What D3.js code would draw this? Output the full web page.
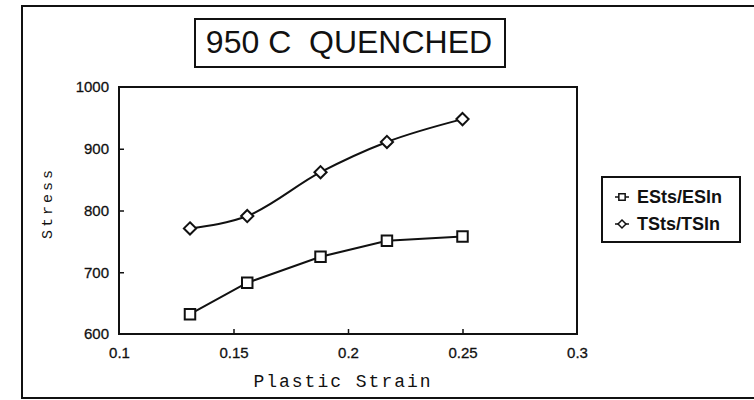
<!DOCTYPE html>
<html>
<head>
<meta charset="utf-8">
<script src="https://cdn.jsdelivr.net/npm/d3@7/dist/d3.min.js"></script>
<style>
  html, body { margin: 0; padding: 0; background: #fff; }
  svg { display: block; }
</style>
</head>
<body>
<svg id="chart" width="754" height="400"></svg>
<script>
// ---- data ----
const strain = [0.131, 0.156, 0.188, 0.217, 0.25];
const esValues = [632, 683, 725, 751, 758];
const tsValues = [771, 791, 862, 911, 948];
const seriesNames = ["ESts/ESln", "TSts/TSln"];
const yTicks = [600, 700, 800, 900, 1000];
const xTicks = [0.1, 0.15, 0.2, 0.25, 0.3];
const titleText = "950 C  QUENCHED";
const xLabel = "Plastic Strain";
const yLabel = "Stress";

const svg = d3.select("#chart");
const ink = "#111";

// outer frame
svg.append("rect").attr("x", 22).attr("y", 6).attr("width", 760).attr("height", 392)
  .attr("fill", "none").attr("stroke", ink).attr("stroke-width", 2);

// title box
svg.append("rect").attr("x", 195).attr("y", 19).attr("width", 310).attr("height", 48)
  .attr("fill", "none").attr("stroke", ink).attr("stroke-width", 2);
svg.append("text").attr("x", 349).attr("y", 53).attr("text-anchor", "middle")
  .attr("font-family", "'Liberation Sans', Arial, sans-serif").attr("font-size", 32)
  .attr("fill", ink).style("white-space", "pre").text(titleText);

// plot area
const L = 119, R = 577, T = 87, B = 334;
const x = d3.scaleLinear().domain([0.1, 0.3]).range([L, R]);
const y = d3.scaleLinear().domain([600, 1000]).range([B, T]);

// frame
svg.append("rect").attr("x", L).attr("y", T).attr("width", R - L).attr("height", B - T)
  .attr("fill", "none").attr("stroke", ink).attr("stroke-width", 2);

const tickFont = "'Liberation Sans', Arial, sans-serif";
const yAxis = svg.append("g").attr("transform", `translate(${L},0)`)
  .call(d3.axisLeft(y).tickValues(yTicks).tickFormat(d3.format("d")).tickSize(-5).tickPadding(10));
const xAxis = svg.append("g").attr("transform", `translate(0,${B})`)
  .call(d3.axisBottom(x).tickValues(xTicks).tickFormat(d => String(d)).tickSize(-5).tickPadding(13));
[yAxis, xAxis].forEach(g => {
  g.select(".domain").remove();
  g.selectAll("line").attr("stroke", ink).attr("stroke-width", 1.5);
  g.selectAll("text").attr("font-family", tickFont).attr("font-size", 15)
    .attr("fill", ink).attr("stroke", ink).attr("stroke-width", 0.3);
});
// hide inner ticks at the frame ends
yAxis.selectAll(".tick").filter(d => d === 600 || d === 1000).select("line").remove();
xAxis.selectAll(".tick").filter(d => d === 0.1 || d === 0.3).select("line").remove();

// axis titles
svg.append("text").attr("transform", "translate(52,203) rotate(-90)").attr("text-anchor", "middle")
  .attr("font-family", "'Liberation Mono', 'DejaVu Sans Mono', monospace").attr("font-size", 15)
  .attr("letter-spacing", 3).attr("fill", ink).text(yLabel);
svg.append("text").attr("x", 343).attr("y", 387).attr("text-anchor", "middle")
  .attr("font-family", "'Liberation Mono', 'DejaVu Sans Mono', monospace").attr("font-size", 18)
  .attr("letter-spacing", 2).attr("fill", ink).text(xLabel);

// lines
const esLine = d3.line().x(d => x(d[0])).y(d => y(d[1])).curve(d3.curveLinear);
const tsLine = d3.line().x(d => x(d[0])).y(d => y(d[1])).curve(d3.curveMonotoneX);
const esData = strain.map((s, i) => [s, esValues[i]]);
const tsData = strain.map((s, i) => [s, tsValues[i]]);
svg.append("path").datum(esData).attr("d", esLine).attr("fill", "none")
  .attr("stroke", ink).attr("stroke-width", 2);
svg.append("path").datum(tsData).attr("d", tsLine).attr("fill", "none")
  .attr("stroke", ink).attr("stroke-width", 2);

// markers
const sq = d3.symbol().type(d3.symbolSquare).size(110);
const dm = d3.symbol().type(d3.symbolDiamond2).size(95);
svg.append("g").selectAll("path").data(esData).join("path")
  .attr("transform", d => `translate(${x(d[0])},${y(d[1])})`).attr("d", sq)
  .attr("fill", "#fff").attr("stroke", ink).attr("stroke-width", 2);
svg.append("g").selectAll("path").data(tsData).join("path")
  .attr("transform", d => `translate(${x(d[0])},${y(d[1])})`).attr("d", dm)
  .attr("fill", "#fff").attr("stroke", ink).attr("stroke-width", 2);

// legend
const lg = svg.append("g");
lg.append("rect").attr("x", 602).attr("y", 177).attr("width", 138).attr("height", 65)
  .attr("fill", "#fff").attr("stroke", ink).attr("stroke-width", 2);
const legendSymbols = [d3.symbol().type(d3.symbolSquare).size(40), d3.symbol().type(d3.symbolDiamond2).size(40)];
seriesNames.forEach((name, i) => {
  const yy = 197 + i * 27;
  lg.append("line").attr("x1", 615).attr("x2", 629).attr("y1", yy).attr("y2", yy)
    .attr("stroke", ink).attr("stroke-width", 1.5);
  lg.append("path").attr("transform", `translate(622,${yy})`).attr("d", legendSymbols[i])
    .attr("fill", "#fff").attr("stroke", ink).attr("stroke-width", 1.5);
  lg.append("text").attr("x", 637).attr("y", yy + 6).attr("font-family", tickFont)
    .attr("font-size", 18).attr("font-weight", "bold").attr("fill", ink).text(name);
});
</script>
</body>
</html>
